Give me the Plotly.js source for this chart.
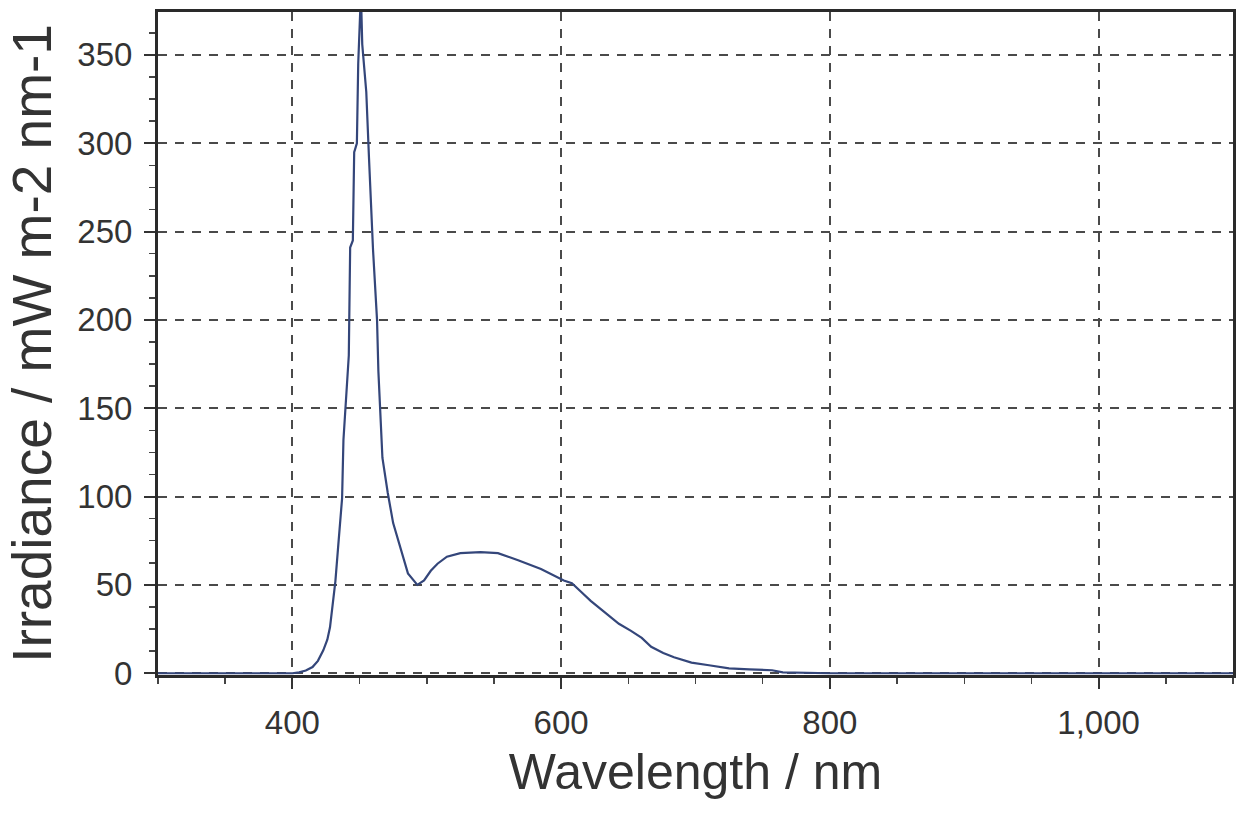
<!DOCTYPE html>
<html>
<head>
<meta charset="utf-8">
<script src="https://cdn.plot.ly/plotly-3.0.1.min.js"></script>
<style>html,body{margin:0;padding:0;background:#fff;}#chart{width:1239px;height:814px;}</style>
</head>
<body>
<div id="chart"></div>
<script>
// Spectral irradiance
const wavelength = [300, 350, 400, 405, 410, 415, 419, 423, 426, 428, 430, 432, 434, 437, 438, 440, 442, 443, 445, 446, 448, 449, 450, 451, 452, 453, 455, 457, 460, 463, 464, 467, 471, 475, 481, 486, 493, 498, 503, 508, 515, 525, 540, 553, 568, 585, 602, 608, 615, 622, 630, 643, 652, 660, 667, 676, 684, 697, 710, 725, 740, 757, 765, 800, 900, 1000, 1100];
const irradiance = [0, 0, 0, 0.5, 1.5, 3.5, 7, 13, 19, 26, 40, 52, 71, 99, 132, 155, 180, 241, 245, 295, 300, 345, 360, 385, 356, 346, 329, 292, 240, 200, 171, 122, 102, 85, 69.5, 56.5, 50, 52.5, 58, 62, 66, 68, 68.5, 68, 64, 59, 52.5, 51, 46, 41, 36, 28, 24, 20, 15, 11.5, 9, 6, 4.5, 2.8, 2.2, 1.7, 0.5, 0, 0, 0, 0];
const xTickVals = [400, 600, 800, 1000];
const xTickText = ['400', '600', '800', '1,000'];
const yTickVals = [0, 50, 100, 150, 200, 250, 300, 350];
const xTitle = 'Wavelength / nm';
const yTitle = 'Irradiance / mW m-2 nm-1';

const sans = '"Liberation Sans", Arial, sans-serif';

const trace = {
  x: wavelength,
  y: irradiance,
  type: 'scatter',
  mode: 'lines',
  line: {color: '#34467a', width: 2.2},
  hoverinfo: 'x+y'
};

const layout = {
  width: 1239,
  height: 814,
  margin: {l: 158, r: 6, t: 12, b: 139},
  paper_bgcolor: '#ffffff',
  plot_bgcolor: '#ffffff',
  showlegend: false,
  xaxis: {
    range: [300, 1100],
    tickmode: 'array',
    tickvals: xTickVals,
    ticktext: xTickText,
    ticks: 'outside',
    ticklen: 11,
    tickwidth: 2,
    tickcolor: '#333',
    ticklabelstandoff: 5,
    tickfont: {family: sans, size: 33, color: '#333'},
    showline: true,
    linecolor: '#2a2a2a',
    linewidth: 3,
    mirror: true,
    showgrid: true,
    gridcolor: '#4a4a4a',
    gridwidth: 2,
    griddash: '9px,8px',
    zeroline: false,
    minor: {dtick: 50, ticks: 'outside', ticklen: 6, tickwidth: 1.5, tickcolor: '#444', showgrid: false},
    title: {text: xTitle, font: {family: sans, size: 50, color: '#333'}, standoff: 15}
  },
  yaxis: {
    range: [-1, 374.3],
    tickmode: 'array',
    tickvals: yTickVals,
    ticks: 'outside',
    ticklen: 11,
    tickwidth: 2,
    tickcolor: '#333',
    ticklabelstandoff: 5,
    tickfont: {family: sans, size: 33, color: '#333'},
    showline: true,
    linecolor: '#2a2a2a',
    linewidth: 3,
    mirror: true,
    showgrid: true,
    gridcolor: '#4a4a4a',
    gridwidth: 2,
    griddash: '9px,8px',
    zeroline: false,
    minor: {dtick: 12.5, ticks: 'outside', ticklen: 6, tickwidth: 1.5, tickcolor: '#444', showgrid: false},
    title: {text: yTitle, font: {family: sans, size: 55, color: '#333'}, standoff: 9}
  }
};

Plotly.newPlot('chart', [trace], layout, {displayModeBar: false, staticPlot: true});
</script>
</body>
</html>
